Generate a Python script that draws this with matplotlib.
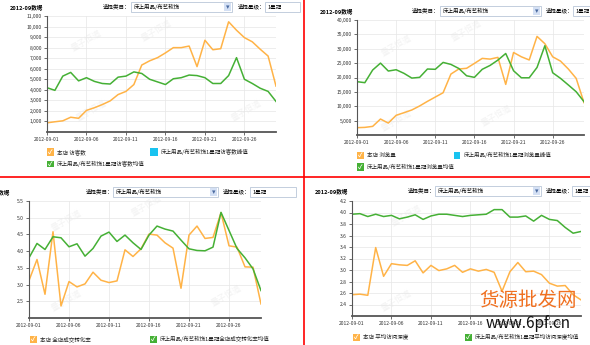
import matplotlib
matplotlib.use("Agg")
import matplotlib.pyplot as plt
from matplotlib.patches import Rectangle

plt.rcParams['font.family'] = ['Noto Sans CJK SC', 'DejaVu Sans']

W, H = 590, 345

days = list(range(1, 31))
tick_days = [1, 6, 11, 16, 21, 26]
tick_labels = ['2012-09-01', '2012-09-06', '2012-09-11', '2012-09-16', '2012-09-21', '2012-09-26']

# 访客数
uv_shop = [870, 970, 1060, 1400, 1300, 2050, 2300, 2600, 2950, 3550,
           3850, 4500, 6350, 6750, 7050, 7500, 8000, 8000, 8150, 6200,
           8700, 7800, 7900, 10450, 9650, 8950, 8550, 7850, 7200, 4350]
uv_avg = [4200, 3950, 5300, 5650, 4850, 5150, 4800, 4600, 4550, 5200,
          5300, 5700, 5550, 5000, 4750, 4500, 5050, 5150, 5400, 5350,
          5150, 4600, 4600, 5350, 7050, 5000, 4600, 4150, 3850, 2900]

# 浏览量
pv_shop = [2550, 2650, 3000, 5550, 4150, 6850, 7750, 8700, 10100, 11700,
           13200, 14700, 21200, 22950, 23200, 24900, 26650, 26400, 27000, 17600,
           28700, 27200, 26100, 34300, 31750, 27200, 25700, 22950, 19700, 11250]
pv_avg = [18550, 18200, 22600, 25000, 22250, 22700, 21450, 19800, 20050, 22950,
          22850, 25250, 24550, 23150, 20600, 20050, 22850, 24200, 26050, 28350,
          22350, 19900, 19900, 23500, 31050, 21650, 19700, 17400, 15050, 11600]

# 全店成交转化率
cr_shop = [3.12, 3.75, 2.71, 4.58, 2.36, 3.09, 2.93, 3.02, 3.37, 3.13,
           3.06, 3.11, 4.04, 3.84, 4.07, 4.51, 4.48, 4.25, 4.09, 2.89,
           4.48, 4.75, 4.38, 4.41, 5.15, 4.16, 4.12, 3.53, 3.52, 2.42]
cr_avg = [3.80, 4.23, 4.05, 4.43, 4.40, 4.13, 4.22, 3.85, 4.08, 4.45,
          4.57, 4.29, 4.48, 4.25, 4.05, 4.48, 4.75, 4.66, 4.60, 4.33,
          4.07, 4.02, 4.01, 4.12, 5.16, 4.62, 4.08, 3.80, 3.47, 2.82]

# 平均访问深度
depth_shop = [2.57, 2.58, 2.56, 3.39, 2.89, 3.11, 3.09, 3.08, 3.16, 2.95,
              3.08, 2.99, 3.02, 3.08, 2.96, 3.02, 2.98, 3.01, 2.96, 2.63,
              2.97, 3.13, 2.97, 2.98, 2.92, 2.77, 2.72, 2.73, 2.57, 2.48]
depth_avg = [3.97, 3.98, 3.93, 3.97, 3.93, 3.95, 3.89, 3.92, 3.96, 3.88,
             3.94, 3.97, 3.97, 3.95, 3.93, 3.95, 3.96, 3.97, 4.05, 4.05,
             3.92, 3.92, 3.94, 3.85, 3.95, 3.88, 3.86, 3.74, 3.64, 3.67]

ORANGE = '#FFB347'
GREEN = '#45B035'
BLUE = '#19C3F0'

fig = plt.figure(figsize=(W / 100, H / 100), dpi=100)
fig.patch.set_facecolor('white')


def fx(x):
    return x / W


def fy(y):
    return 1 - y / H


def ftext(x, y, s, **kw):
    kw.setdefault('fontsize', 4)
    kw.setdefault('va', 'center')
    fig.text(fx(x), fy(y), s, **kw)


def frect(x0, y0, x1, y1, **kw):
    fig.add_artist(Rectangle((fx(x0), fy(y1)), fx(x1) - fx(x0), fy(y0) - fy(y1),
                             transform=fig.transFigure, **kw))


def header(x_title, x_sel, box0, box1, x_star, sbox0, sbox1, y):
    ftext(x_title, y, '2012-09数据', fontsize=4, fontweight='bold')
    ftext(x_sel, y, '选择类目：', fontsize=4)
    frect(box0, y - 5, box1, y + 5, facecolor='white', edgecolor='#b9c6d8', lw=0.6)
    ftext(box0 + 3, y, '床上用品/布艺软饰', fontsize=4)
    frect(box1 - 8, y - 4, box1 - 1, y + 4, facecolor='#d4e0f4', edgecolor='none')
    ftext(box1 - 4.5, y, '▾', fontsize=5, ha='center', color='#4a6aa0')
    ftext(x_star, y, '选择星级：', fontsize=4)
    frect(sbox0, y - 5, sbox1, y + 5, facecolor='white', edgecolor='#b9c6d8', lw=0.6)
    ftext(sbox0 + 3, y, '1星冠', fontsize=4)


def checkbox(x, y, color, label, check=True):
    frect(x - 3.5, y - 3.5, x + 3.5, y + 3.5, facecolor=color, edgecolor='none')
    if check:
        ftext(x, y, '✓', fontsize=4.5, ha='center', color='white', fontweight='bold')
    ftext(x + 7, y, label, fontsize=4, color='#222222')


def panel(x0, y0, x1, y1, shop, avg, ylim, yticks, fmt):
    ax = fig.add_axes([fx(x0), fy(y1), fx(x1) - fx(x0), fy(y0) - fy(y1)])
    ax.patch.set_alpha(0)
    ax.plot(days, shop, color=ORANGE, lw=1.1)
    ax.plot(days, avg, color=GREEN, lw=1.1)
    ax.set_xlim(1, 30)
    ax.set_ylim(*ylim)
    ax.set_xticks(tick_days)
    ax.set_xticklabels(tick_labels, fontsize=3.6)
    ax.set_yticks(yticks)
    ax.set_yticklabels([fmt(v) for v in yticks], fontsize=3.6)
    ax.grid(True, color='#e6e6e6', lw=0.5)
    ax.set_axisbelow(True)
    for s in ('top', 'right'):
        ax.spines[s].set_visible(False)
    ax.spines['left'].set_color('#555555')
    ax.spines['bottom'].set_color('#555555')
    ax.spines['left'].set_linewidth(0.8)
    ax.spines['bottom'].set_linewidth(1.3)
    ax.tick_params(length=2, width=0.5, pad=1.5, colors='#333333')
    return ax


def thousands(v):
    return '{:,}'.format(int(v))


# faint background watermarks, drawn first so they sit under everything
for wx, wy in [(70, 40), (140, 30), (75, 110), (230, 110), (380, 45), (450, 30), (380, 120),
               (480, 115), (50, 220), (130, 205), (50, 300), (210, 295), (390, 215), (380, 300)]:
    ftext(wx, wy, '量子恒道', fontsize=6, color='#f3f3f3', rotation=30, zorder=-5)

# top left: 访客数
panel(47, 16, 276, 132, uv_shop, uv_avg, (0, 11000), list(range(1000, 11001, 1000)), thousands)
header(10, 103, 131, 232, 238, 265, 300, 7)
checkbox(50, 152, ORANGE, '本店 访客数')
checkbox(154, 152, BLUE, '床上用品/布艺软饰1星冠访客数峰值', check=False)
checkbox(50, 164, GREEN, '床上用品/布艺软饰1星冠访客数均值')

# top right: 浏览量
panel(357, 20, 584, 135, pv_shop, pv_avg, (0, 40000), list(range(5000, 40001, 5000)), thousands)
header(320, 412, 440, 541, 546, 573, 600, 11)
checkbox(360, 155, ORANGE, '本店 浏览量')
checkbox(457, 155, BLUE, '床上用品/布艺软饰1星冠浏览量峰值', check=False)
checkbox(360, 167, GREEN, '床上用品/布艺软饰1星冠浏览量均值')

# bottom left: 全店成交转化率
panel(29, 201, 261, 318, cr_shop, cr_avg, (2.0, 5.5), [2.5, 3.0, 3.5, 4.0, 4.5, 5.0, 5.5],
      lambda v: '{:.1f}'.format(v))
header(-23, 86, 113, 218, 223, 250, 296, 192)
checkbox(33, 339, ORANGE, '本店 全店成交转化率')
checkbox(153, 339, GREEN, '床上用品/布艺软饰1星冠全店成交转化率均值')

# bottom right: 平均访问深度
panel(352, 201, 581, 316, depth_shop, depth_avg, (2.2, 4.2),
      [2.4, 2.6, 2.8, 3.0, 3.2, 3.4, 3.6, 3.8, 4.0, 4.2], lambda v: '{:.1f}'.format(v))
header(315, 408, 435, 541, 546, 572, 600, 191)
checkbox(356, 337, ORANGE, '本店 平均访问深度')
checkbox(468, 337, GREEN, '床上用品/布艺软饰1星冠平均访问深度均值')

# red separators
fig.add_artist(plt.Line2D([0, 1], [fy(177), fy(177)], color='red', lw=1.2, transform=fig.transFigure))
fig.add_artist(plt.Line2D([fx(304), fx(304)], [0, 1], color='red', lw=1.2, transform=fig.transFigure))

# site watermark
ftext(528, 300, '货源批发网', fontsize=14, color='#F07020', ha='center', style='italic')
ftext(528, 324, 'www.6pf.cn', fontsize=11, color='#111111', ha='center', style='italic')

fig.savefig('out.png', dpi=100, facecolor='white')
